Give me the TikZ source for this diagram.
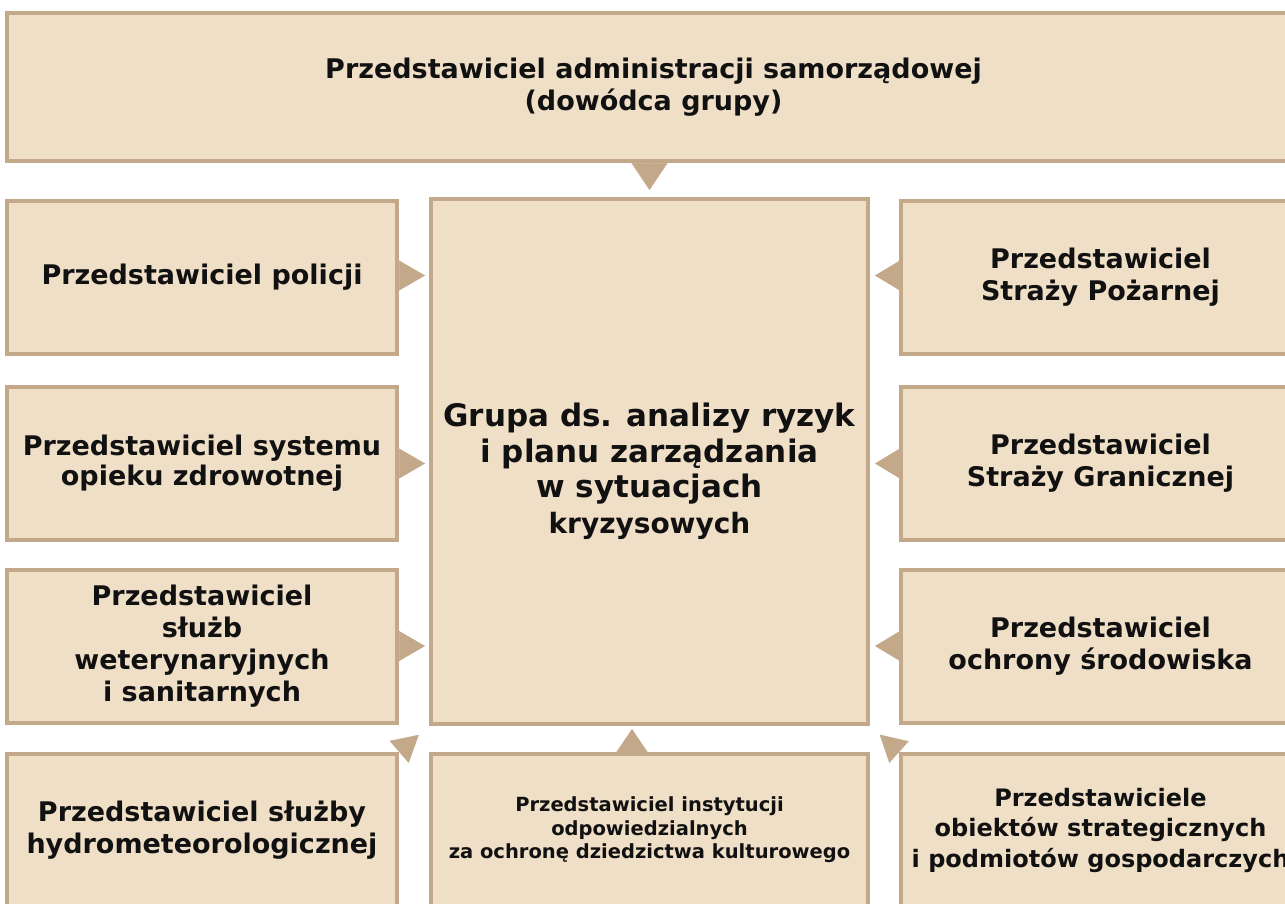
\documentclass[tikz,border=0pt]{standalone}
\usepackage{fontspec}
\setmainfont{DejaVu Sans}
\usetikzlibrary{arrows.meta}
\definecolor{boxfill}{RGB}{240,223,199}
\definecolor{boxline}{RGB}{196,168,138}
\definecolor{txt}{RGB}{17,17,17}
\newcommand\boxfont{\fontsize{27pt}{32pt}\selectfont\bfseries}
\newcommand\bigfont{\fontsize{31pt}{35.5pt}\selectfont\bfseries}
\newcommand\smallfont{\fontsize{19.5pt}{23.5pt}\selectfont\bfseries}
\newcommand\midfont{\fontsize{24pt}{30.5pt}\selectfont\bfseries}
\begin{document}
\begin{tikzpicture}[x=1pt,y=-1pt,
  box/.style={draw=boxline, fill=boxfill, line width=4pt, rectangle, inner sep=0pt, align=center, text=txt, font=\boxfont},
  side/.style={box, minimum width=390pt, minimum height=153pt},
  rside/.style={box, minimum width=399pt, minimum height=153pt},
  tri/.style n args={2}{draw=boxline, fill=boxline, line width=0.5pt, -{Triangle[length=#1pt,width=#2pt]}}
]
\useasboundingbox (0,0) rectangle (1285,903);
\clip (0,0) rectangle (1285,903);
\fill[white] (0,0) rectangle (1285,903);

% top box
\node[box, minimum width=1293pt, minimum height=148pt] (top) at (653.5,87)
  {Przedstawiciel administracji samorządowej\\(dowódca grupy)};

% centre box and its text
\node[box, minimum width=437pt, minimum height=525pt] (c) at (649.5,461.5) {};
\node[align=center, text=txt, font=\bigfont, inner sep=0pt] (ct) at (649.5,471)
  {Grupa ds. analizy ryzyk\\i planu zarządzania\\w sytuacjach\\{\fontsize{28pt}{35.5pt}\selectfont kryzysowych}};

% left column
\node[side] (l1) at (202,277) {Przedstawiciel policji};
\node[side, font=\fontsize{27pt}{30pt}\selectfont\bfseries] (l2) at (202,463.5) {Przedstawiciel systemu\\opieku zdrowotnej};
\node[side] (l3) at (202,646) {Przedstawiciel\\służb\\weterynaryjnych\\i sanitarnych};
\node[side, minimum height=152pt] (l4) at (202,830) {Przedstawiciel służby\\hydrometeorologicznej};

% right column
\node[rside] (r1) at (1100.5,277) {Przedstawiciel\\Straży Pożarnej};
\node[rside] (r2) at (1100.5,463.5) {Przedstawiciel\\Straży Granicznej};
\node[rside] (r3) at (1100.5,646) {Przedstawiciel\\ochrony środowiska};
\node[rside, font=\midfont, minimum height=152pt] (r4) at (1100.5,830) {Przedstawiciele\\obiektów strategicznych\\i podmiotów gospodarczych};

% bottom centre
\node[box, font=\smallfont, minimum width=437pt, minimum height=152pt] (b) at (649.5,830)
  {Przedstawiciel instytucji\\odpowiedzialnych\\za ochronę dziedzictwa kulturowego};

% arrows
\draw[tri={27}{36}, shorten >=7pt] (top.south -| c.north) -- (c.north);
\draw[tri={26}{30}, shorten >=4pt] (l1.east |- 0,275.5) -- (c.west |- 0,275.5);
\draw[tri={26}{30}, shorten >=4pt] (l2.east) -- (l2.east -| c.west);
\draw[tri={26}{30}, shorten >=4pt] (l3.east) -- (l3.east -| c.west);
\draw[tri={25}{30}, shorten >=5pt] (r1.west |- 0,275.5) -- (c.east |- 0,275.5);
\draw[tri={25}{30}, shorten >=5pt] (r2.west) -- (r2.west -| c.east);
\draw[tri={25}{30}, shorten >=5pt] (r3.west) -- (r3.west -| c.east);
\coordinate (bup) at ([xshift=-17.5pt]b.north);
\draw[tri={23}{31}, shorten >=3pt] (bup) -- (bup |- c.south);
\draw[tri={26}{29}, shorten >=13.5pt] (l4.north east) -- (c.south west);
\draw[tri={26}{29}, shorten >=13pt] (r4.north west) -- (c.south east);
\end{tikzpicture}
\end{document}
